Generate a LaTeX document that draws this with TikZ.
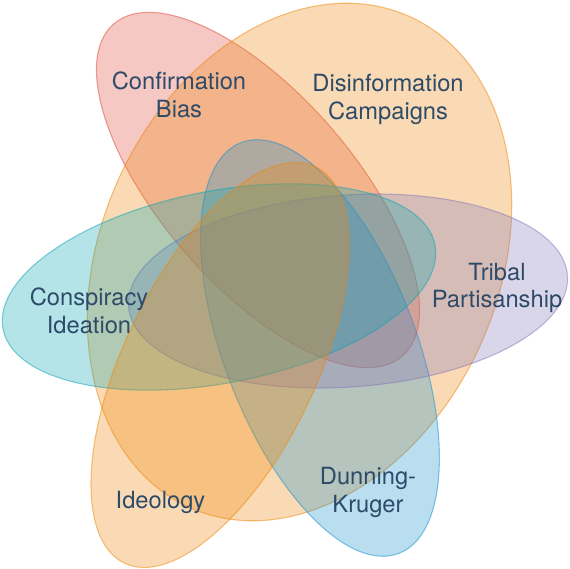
\documentclass[tikz,border=0pt]{standalone}
\usepackage{fontspec}
\setmainfont{TeX Gyre Heros}
\definecolor{cbias}{RGB}{222,72,60}
\definecolor{dcamp}{RGB}{238,134,10}
\definecolor{dkrug}{RGB}{22,145,205}
\definecolor{cideat}{RGB}{8,165,178}
\definecolor{tpart}{RGB}{132,118,185}
\definecolor{ideol}{RGB}{238,134,10}
\definecolor{lbltext}{RGB}{45,75,105}
\begin{document}
\begin{tikzpicture}[x=1pt,y=1pt,
  setfill/.style={fill=#1,draw=#1,fill opacity=0.3,draw opacity=0.5,line width=1.1pt},
  setlabel/.style={text=lbltext,align=center,anchor=base,inner sep=0pt,
    font={\fontsize{23.7}{28}\selectfont}}]
\useasboundingbox (0,0) rectangle (570,-569);
% the six sets
\draw [setfill=cbias, rotate around={-49:(258,-190)}] (258,-190) ellipse [x radius=220pt, y radius=96pt];
\draw [setfill=dcamp, rotate around={66:(299.5,-262)}] (299.5,-262) ellipse [x radius=269pt, y radius=199pt];
\draw [setfill=dkrug, rotate around={111:(320,-348)}] (320,-348) ellipse [x radius=220pt, y radius=96pt];
\draw [setfill=tpart, rotate around={4:(348,-291)}] (348,-291) ellipse [x radius=220pt, y radius=96pt];
\draw [setfill=cideat, rotate around={11:(219,-287)}] (219,-287) ellipse [x radius=220pt, y radius=96pt];
\draw [setfill=ideol, rotate around={64.2:(220,-365)}] (220,-365) ellipse [x radius=220pt, y radius=96pt];
% labels (base = last line)
\node [setlabel] (bias) at (179,-118) {Confirmation\\Bias};
\node [setlabel] (campaigns) at (388,-120) {Disinformation\\Campaigns};
\node [setlabel] (tribal) at (497,-308) {Tribal\\Partisanship};
\node [setlabel] (conspiracy) at (89,-333) {Conspiracy\\Ideation};
\node [setlabel] (ideology) at (160.5,-508) {Ideology};
\node [setlabel] (dunning) at (368,-512) {Dunning-\\Kruger};
\end{tikzpicture}
\end{document}
